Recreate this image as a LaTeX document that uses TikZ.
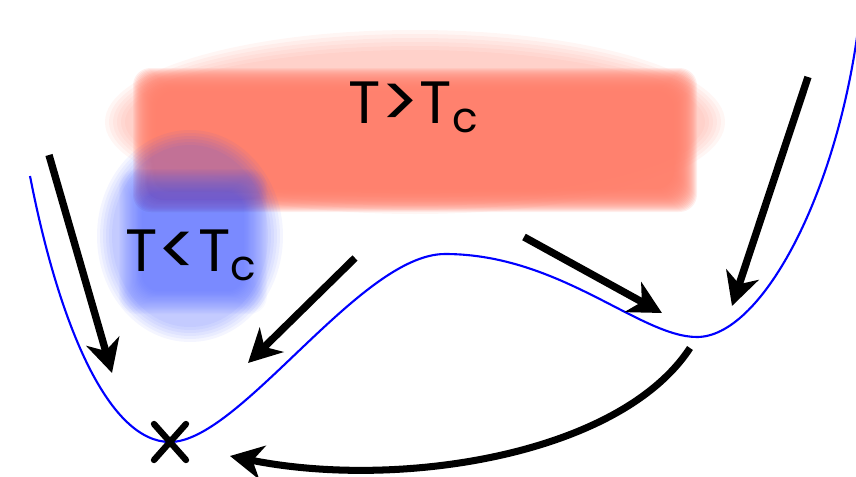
\documentclass[tikz,border=0pt]{standalone}
\usepackage{fontspec}
\newfontfamily\gothfont{Poppins}
\usetikzlibrary{arrows.meta}
\definecolor{hotred}{RGB}{255,125,105}
\definecolor{coldblue}{RGB}{50,75,255}
\definecolor{wellblue}{RGB}{0,0,255}
\newcommand{\subc}{{\fontsize{24}{24}\selectfont\raisebox{-0.18cm}{c}}}
\newcommand{\cmp}[1]{\raisebox{-2.5pt}{\scalebox{1.22}{#1}}}

\begin{document}
\begin{tikzpicture}[
    x=0.02cm, y=-0.02cm,
    every node/.style={font=\gothfont\fontsize{34}{34}\selectfont, inner sep=0pt},
    flow/.style={line width=4.2pt, black,
                 -{Stealth[length=0.66cm, width=0.68cm, inset=0.2cm]}},
    well/.style={line width=1.2pt, wellblue},
    cross/.style={line width=3.6pt, line cap=round},
]
\useasboundingbox (0,0) rectangle (856,477);

% ── Zona caliente: halo + nucleo difuminado ──
\foreach \k in {0,...,5}
  \fill[hotred, opacity=0.07] (415,122) ellipse [x radius={(310-4*\k)*0.02cm}, y radius={(92-4*\k)*0.02cm}];
\foreach \k in {0,...,23}
  \fill[hotred, opacity=0.12, rounded corners=10pt]
    (133+\k,68+\k) rectangle (697-\k,212-\k);

% ── Zona fria ──
\foreach \k in {0,...,5}
  \fill[coldblue, opacity=0.055] (190,236) ellipse [x radius={(93-3*\k)*0.02cm}, y radius={(106-3*\k)*0.02cm}];
\foreach \k in {0,...,19}
  \fill[coldblue, opacity=0.036, rounded corners=10pt]
    (119+1.2*\k,169+1.2*\k) rectangle (267-1.2*\k,314-1.2*\k);

% ── Potencial de doble pozo ──
\draw[well] (30,176) .. controls (60,330) and (110,442) .. (170,442)
    .. controls (240,442) and (360,254) .. (445,254)
    .. controls (560,254) and (640,337) .. (697,337)
    .. controls (760,337) and (835,200) .. (858,30);

% ── Etiquetas ──
\node[anchor=base west] (hot) at (348,123) {T\cmp{>}T\subc};
\node[anchor=base west] (cold) at (125,271) {T\cmp{<}T\subc};

% ── Extremos de las flechas ──
\coordinate (l0) at (49,155);   \coordinate (l1) at (112,373);
\coordinate (m0) at (355,258);  \coordinate (m1) at (248,363);
\coordinate (r0) at (524,237);  \coordinate (r1) at (662,313);
\coordinate (rr0) at (808,77);  \coordinate (rr1) at (732,306);
\coordinate (b0) at (690,348);  \coordinate (b1) at (230,456);
\coordinate (xm) at (170,442);

% ── Flechas ──
\draw[flow] (l0) -- (l1);
\draw[flow] (m0) -- (m1);
\draw[flow] (r0) -- (r1);
\draw[flow] (rr0) -- (rr1);
\draw[flow, line width=4pt] (b0) .. controls (620,455) and (400,490) .. (b1);

% minimo global
\draw[cross, shift={(xm)}] (-16,-18) -- (16,18) (-16,18) -- (16,-18);
\end{tikzpicture}
\end{document}
